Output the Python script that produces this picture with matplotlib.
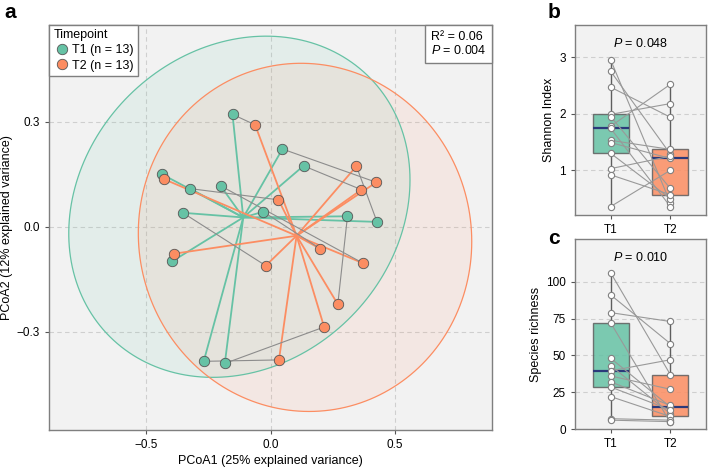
import numpy as np
import matplotlib.pyplot as plt
from matplotlib.patches import Polygon
from matplotlib.offsetbox import AnchoredText

plt.rcParams['font.family'] = ['Liberation Sans', 'DejaVu Sans']
plt.rcParams['mathtext.fontset'] = 'custom'
plt.rcParams['mathtext.rm'] = 'Liberation Sans'
plt.rcParams['mathtext.it'] = 'Liberation Sans:italic'

# PCoA coordinates, T2 listed in the same subject order as T1
t1_x = [-0.153, 0.048, 0.133, -0.437, -0.324, -0.201, -0.353, -0.029, 0.310, 0.429, -0.397, -0.269, -0.184]
t1_y = [0.321, 0.222, 0.174, 0.150, 0.109, 0.117, 0.040, 0.043, 0.030, 0.014, -0.099, -0.384, -0.390]
t2_x = [-0.062, 0.426, 0.366, -0.429, 0.032, 0.373, -0.019, 0.201, 0.271, 0.346, -0.390, 0.034, 0.216]
t2_y = [0.291, 0.127, 0.106, 0.136, 0.077, -0.104, -0.111, -0.063, -0.221, 0.173, -0.077, -0.380, -0.286]

shannon_t1 = [2.95, 2.75, 2.47, 1.99, 1.95, 1.78, 1.74, 1.53, 1.49, 1.30, 1.03, 0.92, 0.36]
shannon_t2 = [0.43, 1.29, 1.94, 2.18, 0.68, 2.52, 0.36, 1.37, 1.21, 0.50, 1.25, 0.57, 1.00]
richness_t1 = [106, 91, 79, 72, 48, 43, 39.5, 36, 32, 28.5, 22, 7, 6]
richness_t2 = [37, 58, 73, 4.5, 15, 10.5, 47, 27, 16, 13, 8.5, 6, 5]

groups = ['T1', 'T2']
colors = ['#66C2A5', '#FC8D62']
F_95 = 3.885  # qf(0.95, 2, 12)

bg = '#F2F2F2'
edge = '#7F7F7F'
gridc = '#CFCFCF'
FS = 9


def cov_trob(x, nu=5, maxit=25, tol=0.01):
    # port of MASS::cov.trob (used by stat_ellipse type = "t")
    n, p = x.shape
    loc = x.mean(axis=0)
    w = np.ones(n)
    for _ in range(maxit):
        w0 = w
        X = x - loc
        _, d, vt = np.linalg.svd(np.sqrt(w / w.sum())[:, None] * X, full_matrices=False)
        wX = X @ vt.T @ np.diag(1 / d)
        Q = (wX ** 2).sum(axis=1)
        w = (nu + p) / (nu + Q)
        loc = (w[:, None] * x).sum(axis=0) / w.sum()
        if np.all(np.abs(w - w0) < tol):
            break
    cov = (np.sqrt(w)[:, None] * X).T @ (np.sqrt(w)[:, None] * X) / n
    return loc, cov


def style_axes(ax):
    ax.set_facecolor(bg)
    for s in ax.spines.values():
        s.set_color(edge)
        s.set_linewidth(1.0)
    ax.tick_params(colors='#555555', labelsize=8.5, length=3, width=0.8, labelcolor='black')


fig = plt.figure(figsize=(7.08, 4.68), dpi=100)

# ---- panel a
ax = fig.add_axes([49/708, 38/468, 443/708, 405/468])
style_axes(ax)
ax.set_xlim(-0.892, 0.892)
ax.set_ylim(-0.58, 0.576)
ax.set_xticks([-0.5, 0, 0.5])
ax.set_xticklabels(['\u22120.5', '0.0', '0.5'])
ax.set_yticks([-0.3, 0, 0.3])
ax.set_yticklabels(['\u22120.3', '0.0', '0.3'])
ax.grid(True, ls=(0, (4, 3)), color=gridc, lw=0.8)
ax.set_axisbelow(True)

pts = [np.column_stack([t1_x, t1_y]), np.column_stack([t2_x, t2_y])]
theta = np.linspace(0, 2*np.pi, 200)
circle = np.column_stack([np.cos(theta), np.sin(theta)])
for xy, c in zip(pts, colors):
    loc, cov = cov_trob(xy)
    chol = np.linalg.cholesky(cov).T
    ell = loc + np.sqrt(2 * F_95) * circle @ chol
    ax.add_patch(Polygon(ell, closed=True, facecolor=c, alpha=0.1, edgecolor='none', zorder=1))
    ax.add_patch(Polygon(ell, closed=True, facecolor='none', edgecolor=c, lw=0.9, zorder=1.5))

for xy, c in zip(pts, colors):
    cx, cy = xy.mean(axis=0)
    for xi, yi in xy:
        ax.plot([cx, xi], [cy, yi], color=c, lw=1.3, zorder=2)

for i in range(len(t1_x)):
    ax.plot([t1_x[i], t2_x[i]], [t1_y[i], t2_y[i]], color='#8C8C8C', lw=0.8, zorder=2.5)

for xy, c, g in zip(pts, colors, groups):
    ax.plot(xy[:, 0], xy[:, 1], 'o', ms=7.5, mfc=c, mec='#555555', mew=0.6, ls='none', zorder=3,
            label=f'{g} (n = {len(xy)})')

leg = ax.legend(title='Timepoint', loc='upper left', borderaxespad=0, fontsize=FS,
                title_fontsize=FS, fancybox=False, framealpha=1, edgecolor=edge,
                handletextpad=0.2, borderpad=0.35, labelspacing=0.25, handlelength=1.3)
leg._legend_box.align = 'left'
leg.get_frame().set_linewidth(1.0)

at = AnchoredText('R\u00b2 = 0.06\n$P$ = 0.004', loc='upper right', borderpad=0.45, pad=0,
                  prop=dict(size=FS, linespacing=1.15), frameon=True)
at.patch.set_boxstyle('square', pad=0.45)
at.patch.set_edgecolor(edge)
at.patch.set_linewidth(1.0)
ax.add_artist(at)

ax.set_xlabel('PCoA1 (25% explained variance)', fontsize=FS, labelpad=3)
ax.set_ylabel('PCoA2 (12% explained variance)', fontsize=FS, labelpad=3)
fig.text(4/708, 1 - 12/468, 'a', fontsize=15, fontweight='bold', va='center')


# ---- panels b and c
def box_panel(rect, d1, d2, ylim, yticks, ylabel, ptxt):
    bx = fig.add_axes(rect)
    style_axes(bx)
    bx.set_xlim(0.4, 2.6)
    bx.set_ylim(*ylim)
    bx.set_yticks(yticks)
    bx.yaxis.grid(True, ls=(0, (4, 3)), color=gridc, lw=0.8)
    bx.set_axisbelow(True)
    bp = bx.boxplot([d1, d2], positions=[1, 2], widths=0.6, whis=(0, 100), showcaps=False,
                    showfliers=False, patch_artist=True, zorder=2,
                    medianprops=dict(color='#2B3A7A', lw=1.6),
                    whiskerprops=dict(color='#5E5E5E', lw=1.0),
                    boxprops=dict(edgecolor='#5E5E5E', lw=1.0))
    for patch, c in zip(bp['boxes'], colors):
        patch.set_facecolor(c)
        patch.set_alpha(0.85)
    for a, b in zip(d1, d2):
        bx.plot([1, 2], [a, b], color='#999999', lw=0.8, zorder=3)
    bx.plot([1]*len(d1), d1, 'o', ms=4.5, mfc='white', mec='#808080', mew=0.8, zorder=4)
    bx.plot([2]*len(d2), d2, 'o', ms=4.5, mfc='white', mec='#808080', mew=0.8, zorder=4)
    bx.set_xticks([1, 2])
    bx.set_xticklabels(groups)
    bx.set_ylabel(ylabel, fontsize=FS, labelpad=3)
    bx.text(0.5, 0.905, ptxt, transform=bx.transAxes, ha='center', va='center', fontsize=FS)
    return bx


box_panel([575/708, 253/468, 131/708, 190/468], shannon_t1, shannon_t2, (0.21, 3.57),
          [1, 2, 3], 'Shannon Index', '$P$ = 0.048')
box_panel([575/708, 39/468, 131/708, 190/468], richness_t1, richness_t2, (0, 129),
          [0, 25, 50, 75, 100], 'Species richness', '$P$ = 0.010')
fig.text(548/708, 1 - 12/468, 'b', fontsize=15, fontweight='bold', va='center')
fig.text(548/708, 1 - 238/468, 'c', fontsize=15, fontweight='bold', va='center')

fig.savefig('out.png', dpi=100)
